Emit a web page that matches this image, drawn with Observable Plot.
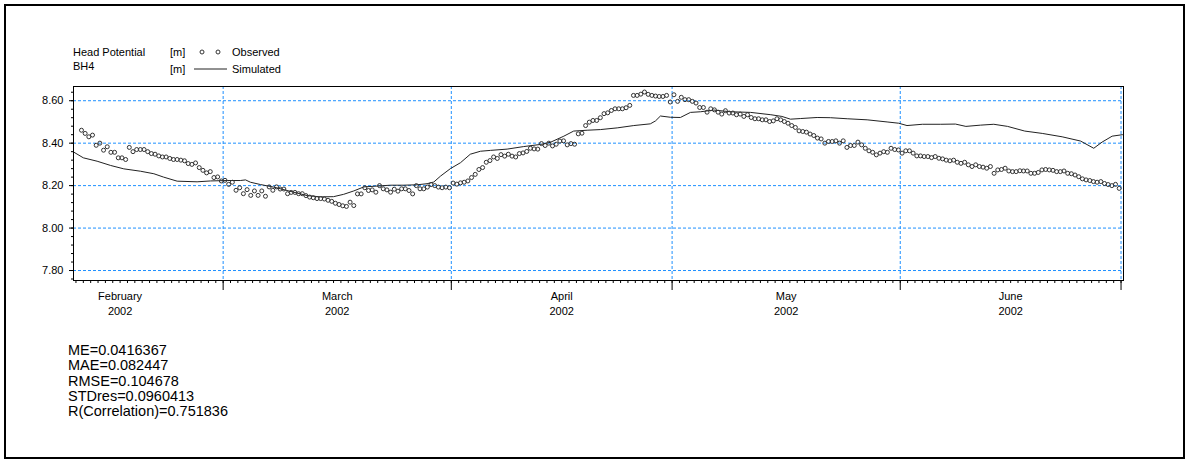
<!DOCTYPE html>
<html><head><meta charset="utf-8">
<script src="https://cdn.jsdelivr.net/npm/d3@7"></script>
<script src="https://cdn.jsdelivr.net/npm/@observablehq/plot@0.6"></script>
<style>
body{margin:0;background:#fff;font-family:"Liberation Sans",Arial,sans-serif;}
#page{position:relative;width:1189px;height:462px;overflow:hidden;background:#fff;}
#border{position:absolute;left:4px;top:4px;width:1177px;height:451px;border:2px solid #000;box-sizing:content-box;}
#legend{position:absolute;left:0;top:0;}
#chart{position:absolute;left:0;top:76px;}
#stats{position:absolute;left:68px;top:343px;font-size:14.5px;line-height:15.25px;color:#000;}
</style>
</head><body>
<div id="page">
  <div id="border"></div>
  <svg id="legend" width="400" height="80" font-family="Liberation Sans, Arial, sans-serif" font-size="11" fill="#000">
    <text x="73" y="56">Head Potential</text>
    <text x="73" y="70">BH4</text>
    <text x="170" y="56">[m]</text>
    <text x="170" y="73">[m]</text>
    <circle cx="202" cy="52" r="2" fill="none" stroke="#333"/>
    <circle cx="218" cy="52" r="2" fill="none" stroke="#333"/>
    <text x="232" y="56">Observed</text>
    <line x1="194" x2="227" y1="69" y2="69" stroke="#222"/>
    <text x="232" y="73">Simulated</text>
  </svg>
  <div id="chart"></div>
  <div id="stats"></div>
</div>
<script>
// ---- data ----
const obsStart = "2002-02-09T18:00Z";   // first observation
const obsStepHours = 12;                  // observations every 12 hours
const obsValues = [
8.461,8.446,8.430,8.438,8.390,8.400,8.367,8.383,8.357,8.357,
8.331,8.331,8.323,8.380,8.360,8.370,8.370,8.370,8.360,8.351,
8.348,8.340,8.335,8.335,8.328,8.323,8.323,8.320,8.317,8.304,
8.300,8.307,8.285,8.272,8.260,8.266,8.238,8.241,8.222,8.225,
8.206,8.216,8.178,8.190,8.162,8.181,8.154,8.175,8.154,8.175,
8.150,8.194,8.178,8.194,8.184,8.184,8.162,8.168,8.168,8.162,
8.162,8.153,8.146,8.143,8.139,8.139,8.137,8.131,8.126,8.117,
8.111,8.105,8.102,8.122,8.106,8.161,8.161,8.190,8.177,8.180,
8.169,8.200,8.185,8.180,8.169,8.183,8.174,8.185,8.185,8.177,
8.161,8.200,8.185,8.185,8.193,8.205,8.200,8.193,8.190,8.193,
8.190,8.212,8.207,8.213,8.216,8.222,8.238,8.253,8.276,8.285,
8.310,8.318,8.335,8.328,8.346,8.339,8.348,8.339,8.335,8.351,
8.354,8.361,8.376,8.373,8.372,8.398,8.389,8.400,8.387,8.395,
8.410,8.411,8.392,8.398,8.395,8.444,8.447,8.483,8.499,8.507,
8.507,8.520,8.539,8.543,8.554,8.562,8.562,8.562,8.567,8.578,
8.625,8.625,8.631,8.641,8.630,8.625,8.622,8.620,8.620,8.625,
8.594,8.628,8.597,8.616,8.605,8.605,8.597,8.589,8.568,8.568,
8.546,8.562,8.557,8.546,8.537,8.553,8.542,8.542,8.534,8.537,
8.526,8.534,8.521,8.515,8.515,8.510,8.510,8.502,8.505,8.515,
8.510,8.502,8.494,8.483,8.474,8.458,8.455,8.452,8.443,8.436,
8.424,8.420,8.400,8.408,8.408,8.411,8.400,8.411,8.380,8.389,
8.389,8.405,8.392,8.376,8.364,8.357,8.345,8.353,8.360,8.357,
8.376,8.370,8.368,8.353,8.364,8.364,8.353,8.340,8.340,8.337,
8.337,8.332,8.337,8.329,8.326,8.320,8.317,8.320,8.310,8.305,
8.310,8.298,8.290,8.298,8.290,8.287,8.282,8.290,8.258,8.274,
8.276,8.282,8.269,8.266,8.266,8.270,8.269,8.269,8.258,8.258,
8.262,8.274,8.276,8.274,8.272,8.266,8.266,8.269,8.258,8.256,
8.250,8.242,8.232,8.227,8.224,8.219,8.216,8.219,8.210,8.205,
8.200,8.206,8.187
];
const simDates = [
"02-08T12","02-10T00","02-11T21","02-13T17","02-15T12","02-17T18","02-19T14","02-20T22","02-22T18","02-25T11",
"02-27T07","03-01T13","03-03T08","03-04T01","03-04T17","03-06T02","03-07T21","03-10T14","03-12T10","03-14T05",
"03-16T00","03-17T09","03-18T18","03-20T03","03-21T22","03-23T18","03-25T13","03-27T09","03-28T17","03-29T15",
"03-30T13","03-31T21","04-02T06","04-03T14","04-04T23","04-06T08","04-08T14","04-10T20","04-13T03","04-14T11",
"04-16T07","04-17T15","04-19T11","04-21T06","04-23T13","04-25T19","04-28T01","04-28T18","04-29T10","04-30T19",
"05-02T03","05-03T12","05-04T21","05-06T16","05-08T22","05-11T16","05-14T10","05-15T22","05-17T02","05-18T10",
"05-20T17","05-22T12","05-24T19","05-27T12","05-30T05","05-31T19","06-01T22","06-04T00","06-06T12","06-08T12",
"06-09T22","06-11T22","06-13T17","06-15T14","06-17T22","06-20T07","06-23T00","06-25T12","06-27T07","06-28T10",
"06-29T19","07-01T05","07-02T00"
];
const simValues = [
8.362,8.331,8.315,8.295,8.279,8.268,8.256,8.240,8.221,8.218,
8.222,8.224,8.224,8.227,8.216,8.205,8.193,8.169,8.153,8.147,
8.148,8.159,8.175,8.194,8.198,8.202,8.202,8.204,8.209,8.217,
8.245,8.280,8.308,8.348,8.362,8.366,8.372,8.384,8.394,8.404,
8.433,8.457,8.461,8.464,8.472,8.483,8.491,8.505,8.528,8.522,
8.521,8.545,8.548,8.556,8.548,8.545,8.534,8.526,8.513,8.516,
8.521,8.520,8.515,8.510,8.500,8.494,8.483,8.489,8.489,8.490,
8.479,8.485,8.489,8.479,8.457,8.446,8.430,8.410,8.376,8.405,
8.433,8.440,8.440
];
const year = "2002";
const monthNames = ["February","March","April","May","June"];
const monthStartStr = ["2002-02-01","2002-03-01","2002-04-01","2002-05-01","2002-06-01","2002-07-01"];
const yMajor = [7.8, 8.0, 8.2, 8.4, 8.6];
const stats = ["ME=0.0416367","MAE=0.082447","RMSE=0.104678","STDres=0.0960413","R(Correlation)=0.751836"];

// ---- build tables ----
const t0 = new Date(obsStart);
const observed = obsValues.map((v, i) => ({date: d3.utcHour.offset(t0, i * obsStepHours), value: v}));
const simulated = simDates.map((s, i) => ({date: new Date("2002-" + s + ":00Z"), value: simValues[i]}));
const monthStarts = monthStartStr.map(s => new Date(s + "T00:00Z"));
const monthMids = monthNames.map((m, i) => new Date((+monthStarts[i] + +monthStarts[i + 1]) / 2));
const xDomain = [new Date("2002-02-08T16:00Z"), new Date("2002-07-01T08:00Z")];
const yDomain = [7.753, 8.667];
const inX = d => d >= xDomain[0] && d <= xDomain[1];
const monthTicks = monthStarts.filter(inX);
const days = d3.utcDay.range(xDomain[0], xDomain[1]).filter(inX);
const yMinor = d3.range(7.76, 8.665, 0.04).map(v => +v.toFixed(2));

const grid = {stroke: "#1e90ff", strokeOpacity: 1, strokeWidth: 1, strokeDasharray: "3,2"};
const chart = Plot.plot({
  width: 1189, height: 244,
  marginLeft: 73, marginRight: 66, marginTop: 10, marginBottom: 40,
  style: {fontFamily: "Liberation Sans, Arial, sans-serif", fontSize: "11px", color: "#000", background: "transparent"},
  x: {type: "utc", domain: xDomain},
  y: {domain: yDomain},
  marks: [
    Plot.gridY(yMajor, grid),
    Plot.gridX(monthTicks, grid),
    Plot.axisY(yMinor, {tickSize: 2, fill: "none", label: null}),
    Plot.axisY(yMajor, {tickSize: 4, tickPadding: 6, tickFormat: d3.format(".2f"), label: null}),
    Plot.axisX(days, {tickSize: 3, fill: "none", label: null}),
    Plot.axisX(monthTicks, {tickSize: 10, fill: "none", label: null}),
    Plot.axisX(monthMids, {tickSize: 0, tickPadding: 9, lineHeight: 1.36, tickFormat: (d, i) => monthNames[i] + "\n" + year, label: null}),
    Plot.line(simulated, {x: "date", y: "value", stroke: "#222", strokeWidth: 1, clip: true}),
    Plot.dot(observed, {x: "date", y: "value", r: 2, stroke: "#333", fill: "none", strokeWidth: 1, clip: true}),
    Plot.frame({stroke: "#000"})
  ]
});
document.getElementById("chart").appendChild(chart);
document.getElementById("stats").innerHTML = stats.map(s => `<div>${s}</div>`).join("");
</script>
</body></html>
